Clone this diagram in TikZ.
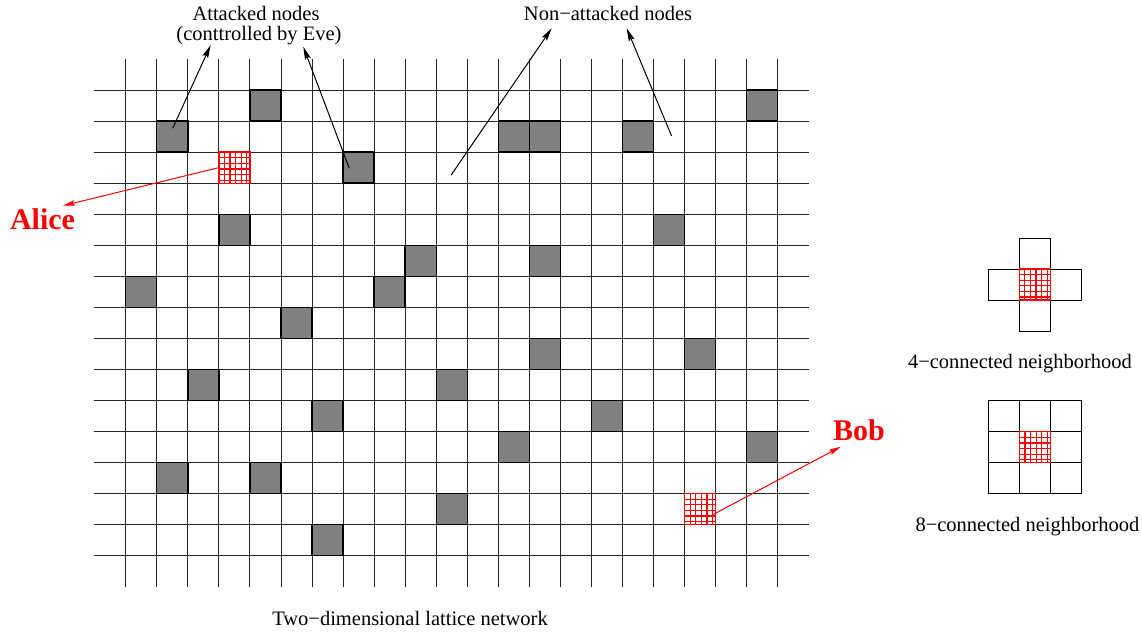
\documentclass[tikz,border=0pt]{standalone}
\usepackage{fontspec}
\setmainfont{Liberation Serif}
\usetikzlibrary{arrows.meta}
\tikzset{
  gridline/.style={line width=0.9pt, black!85},
  attacked/.style={draw=black, line width=1.4pt, fill=black!50, minimum size=31.05pt, inner sep=0pt, outer sep=0pt},
  hatched/.style={draw=red, line width=1.3pt, minimum size=31.05pt, inner sep=0pt, outer sep=0pt,
    path picture={
      \foreach \t in {5.6,11.2,16.8,22.4,28} {
        \draw[red, line width=1.2pt] ([xshift=\t pt]path picture bounding box.north west) -- ([xshift=\t pt]path picture bounding box.south west);
        \draw[red, line width=1.2pt] ([yshift=-\t pt]path picture bounding box.north west) -- ([yshift=-\t pt]path picture bounding box.north east);
      }
    }},
  cellbox/.style={draw=black, line width=0.9pt, minimum size=31.05pt, inner sep=0pt, outer sep=0pt},
  lbl/.style={font=\fontsize{20.5}{22}\selectfont, inner sep=0pt, anchor=base},
  namelbl/.style={font=\fontsize{30}{32}\selectfont\bfseries, text=red, inner sep=0pt, anchor=base},
  blackarrow/.style={line width=1pt, -{Stealth[length=13pt,width=6pt,inset=2pt]}},
  redarrow/.style={red, line width=1pt, -{Stealth[length=12pt,width=5.5pt,inset=2pt]}}
}
\begin{document}
\begin{tikzpicture}[x=1pt,y=-1pt]
\useasboundingbox (0,0) rectangle (1142,632);

% lattice
\begin{scope}[shift={(125.7,90)}, x=31.05pt, y=-31.05pt]
  \foreach \j in {0,...,15} \draw[gridline] (-1.02,\j) -- (22.0,\j);
  \foreach \i in {0,...,21} \draw[gridline] (\i,-1) -- (\i,16);
  \foreach \c/\r [count=\k] in {4/0,1/1,7/2,12/1,13/1,16/1,20/0,3/4,17/4,9/5,13/5,0/6,8/6,5/7,13/8,18/8,2/9,10/9,6/10,15/10,12/11,20/11,1/12,4/12,10/13,6/14}
    \node[attacked] (g\k) at (\c+0.5,\r+0.5) {};
  \node[hatched] (alicecell) at (3.5,2.5) {};
  \node[hatched] (bobcell) at (18.5,13.5) {};
  \coordinate (s1) at (1.514,1.233);
  \coordinate (s2) at (7.20,2.52);
  \coordinate (s3) at (10.48,2.74);
  \coordinate (s4) at (17.58,1.48);
  \coordinate (sb) at (18.79,13.74);
\end{scope}

% labels
\node[lbl] (atk1) at (256,20.7) {Attacked nodes};
\node[lbl] (atk2) at (259,40.5) {(conttrolled by Eve)};
\node[lbl] (non) at (608,20.5) {Non−attacked nodes};
\node[lbl] (lat) at (410,625) {Two−dimensional lattice network};
\node[namelbl] (alice) at (42.5,229.5) {Alice};
\node[namelbl] (bob) at (859,440) {Bob};

\coordinate (t1) at (210.7,45);
\coordinate (t2) at (303.3,46.7);
\coordinate (t3) at (551.7,28.3);
\coordinate (t4) at (626.7,28.3);
\coordinate (ta) at (63,205.7);
\coordinate (tb) at (840.7,446.7);

\draw[blackarrow] (s1) -- (t1);
\draw[blackarrow] (s2) -- (t2);
\draw[blackarrow] (s3) -- (t3);
\draw[blackarrow] (s4) -- (t4);
\draw[redarrow] (alicecell.west) -- (ta);
\draw[redarrow] (sb) -- (tb);

% 4-connected neighborhood
\node[cellbox] (n4t) at (1034.8,253.5) {};
\node[cellbox] (n4b) at (1034.8,315.5) {};
\node[cellbox] (n4l) at (1003.8,284.5) {};
\node[cellbox] (n4r) at (1065.8,284.5) {};
\node[hatched] (n4c) at (1034.8,284.5) {};
\node[lbl] (four) at (1020,368) {4−connected neighborhood};

% 8-connected neighborhood
\foreach \dx/\dy [count=\k] in {-1/-1,0/-1,1/-1,-1/0,1/0,-1/1,0/1,1/1}
  \node[cellbox] (n8\k) at (1035+31.1*\dx,447.3+31.1*\dy) {};
\node[hatched] (n8c) at (1035,447.3) {};
\node[lbl] (eight) at (1027.5,531.7) {8−connected neighborhood};
\end{tikzpicture}
\end{document}
